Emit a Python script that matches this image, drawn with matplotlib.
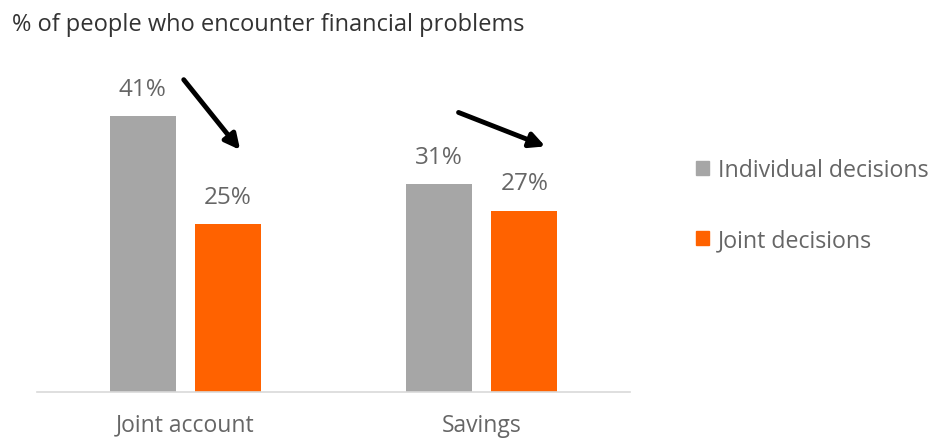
import matplotlib
matplotlib.use("Agg")
import matplotlib.pyplot as plt
import numpy as np
from matplotlib.patches import Patch

plt.rcParams['font.family'] = ['Open Sans', 'DejaVu Sans']

categories = ["Joint account", "Savings"]
series_names = ["Individual decisions", "Joint decisions"]
individual = [41, 31]
joint = [25, 27]
colors = ["#A6A6A6", "#FF6200"]
title = "% of people who encounter financial problems"

fig = plt.figure(figsize=(9.41, 4.39), dpi=100)
ax = fig.add_axes([37/941, 46/439, (630-37)/941, 336/439])

x = np.arange(len(categories))
w = 0.223
off = 0.1436
b1 = ax.bar(x - off, individual, w, color=colors[0])
b2 = ax.bar(x + off, joint, w, color=colors[1])

for bars, vals in ((b1, individual), (b2, joint)):
    for r, v in zip(bars, vals):
        ax.annotate(f"{v}%", (r.get_x() + r.get_width()/2, v), xytext=(0, 19.5),
                    textcoords="offset points", ha="center", va="center",
                    fontsize=17.5, color="#666666")

ax.set_xlim(-0.5, 1.5)
ax.set_ylim(0, 50)
ax.set_xticks(x)
ax.set_xticklabels(categories, fontsize=16.5, color="#666666")
ax.tick_params(axis='x', length=0, pad=15)
ax.set_yticks([])
for s in ["top", "right", "left"]:
    ax.spines[s].set_visible(False)
ax.spines["bottom"].set_color("#D9D9D9")
ax.spines["bottom"].set_linewidth(1.2)

# trend arrows
ax.annotate("", xy=(0.191, 35.7), xytext=(-0.011, 46.8),
            arrowprops=dict(arrowstyle="-|>,head_length=0.9,head_width=0.45", lw=3.5, color="black"))
ax.annotate("", xy=(1.223, 36.4), xytext=(0.913, 41.75),
            arrowprops=dict(arrowstyle="-|>,head_length=0.9,head_width=0.45", lw=3.5, color="black"))

fig.text(12/941, 1 - 25/439, title, fontsize=17, color="#333333", va="center", ha="left")

handles = [Patch(color=c) for c in colors]
leg = fig.legend(handles, series_names, loc="center left", bbox_to_anchor=(675/941, 1 - 206/439),
                 frameon=False, fontsize=16.7, labelcolor="#666666", handlelength=0.55, handleheight=0.55,
                 handletextpad=0.4, labelspacing=2.0)

fig.savefig("out.png", dpi=100)
